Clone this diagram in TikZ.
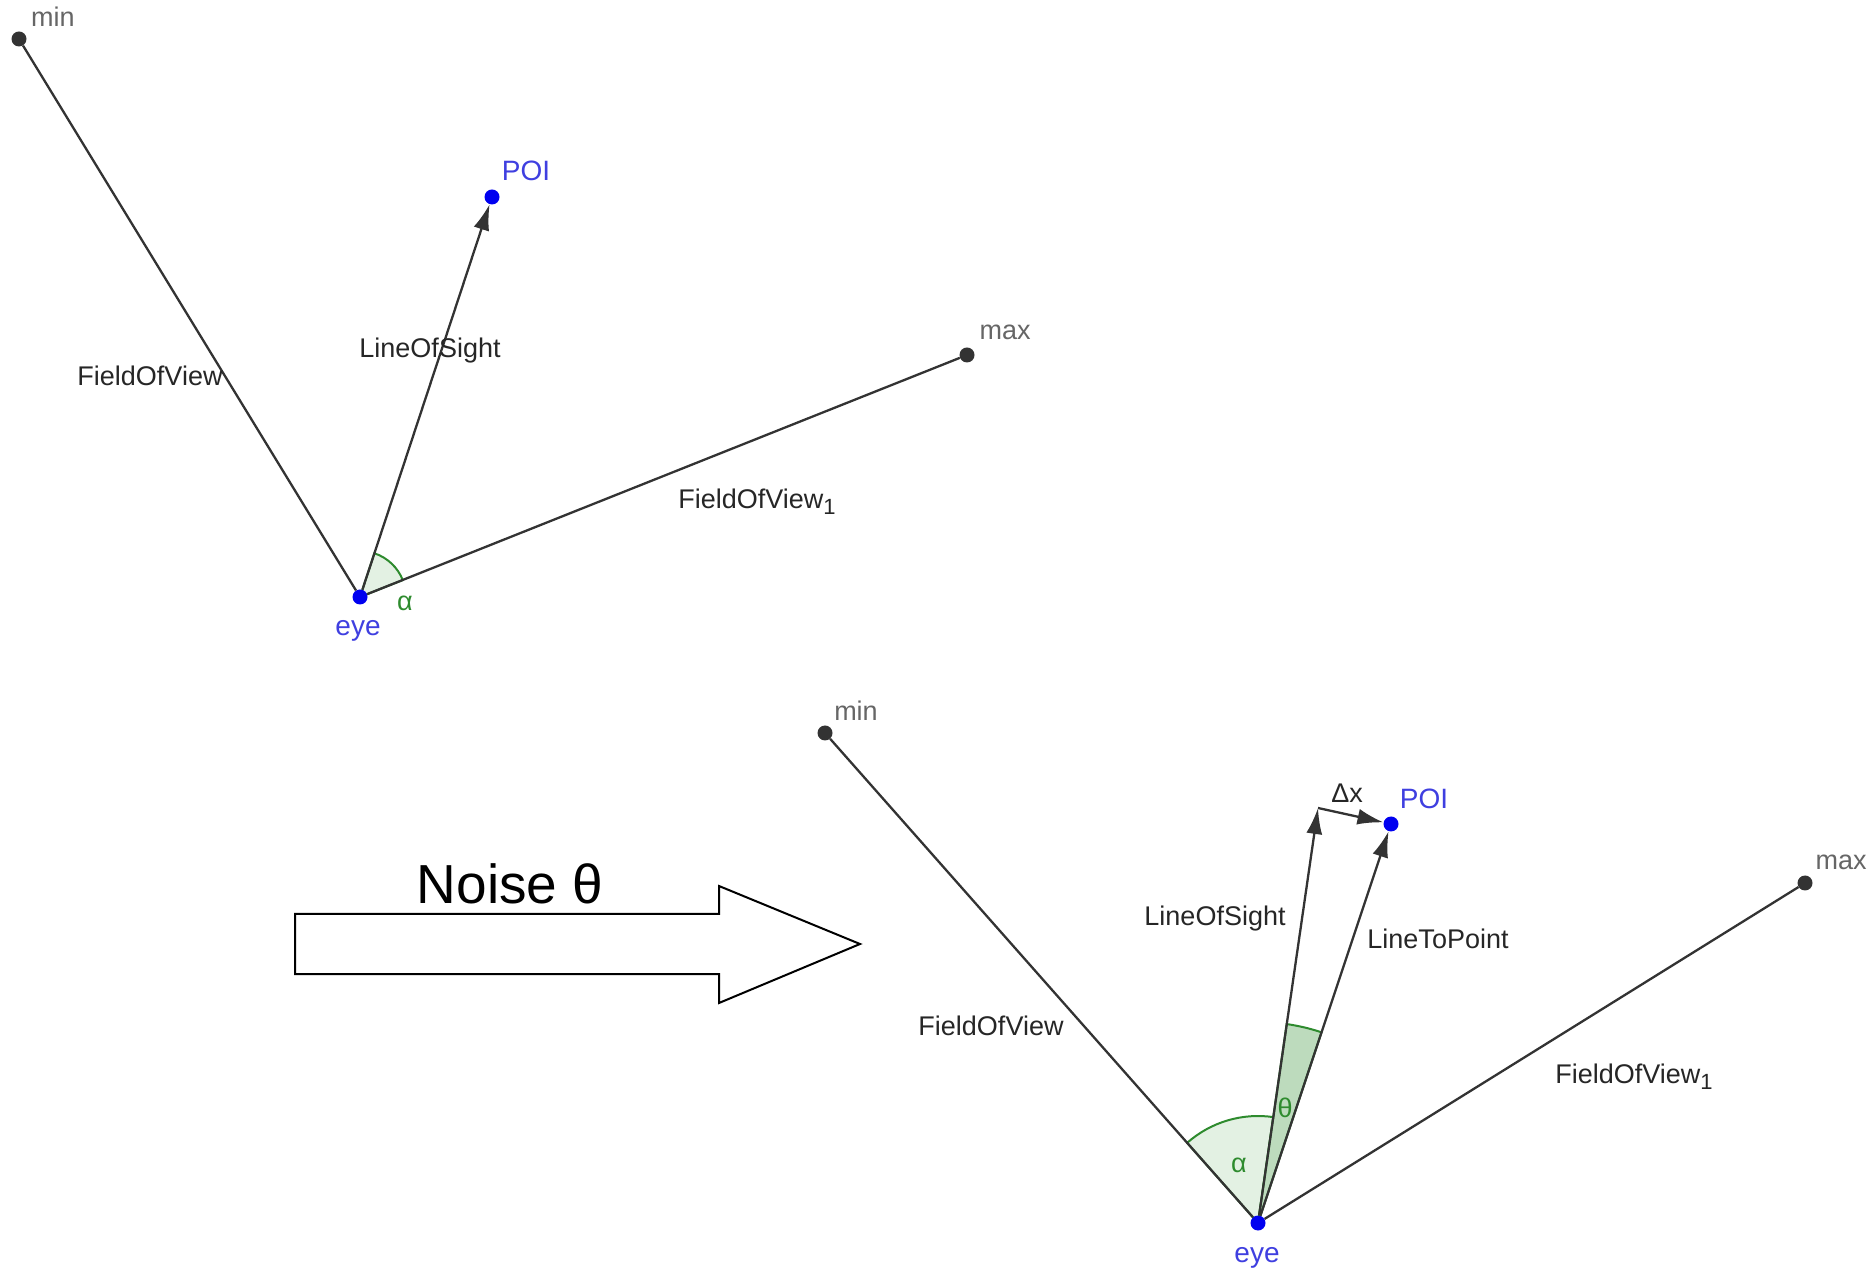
\documentclass[tikz,border=0pt]{standalone}
\usepackage{fontspec}
\setmainfont{Liberation Sans}
\usetikzlibrary{arrows.meta}

\definecolor{segcol}{HTML}{333333}
\definecolor{ptblue}{HTML}{0000F0}
\definecolor{lblblue}{HTML}{3F3FE0}
\definecolor{anggreen}{HTML}{2E8B2E}
\definecolor{lightfill}{HTML}{E3F1E3}
\definecolor{darkfill}{HTML}{BDDBBD}
\newcommand{\lowone}{\raisebox{-0.4ex}{\fontsize{22}{24}\selectfont 1}}

\begin{document}
\begin{tikzpicture}[x=1pt,y=1pt,
seg/.style={draw=segcol,line width=2.3pt},
vec/.style={seg,-{Latex[length=26pt,width=16pt]}},
ptgray/.style={circle,fill=segcol,inner sep=0pt,minimum size=15pt},
ptblue/.style={circle,fill=ptblue,inner sep=0pt,minimum size=15pt},
lbl/.style={font=\fontsize{27}{32}\selectfont,text=black!85},
lblgray/.style={font=\fontsize{27}{32}\selectfont,text=black!60},
lblblue/.style={font=\fontsize{28}{32}\selectfont,text=lblblue},
lblgreen/.style={font=\fontsize{27}{32}\selectfont,text=anggreen},
sector/.style={draw=anggreen,line width=2pt,fill=#1}]
\useasboundingbox (0,0) rectangle (1873,1267);

% first view
\coordinate (eye) at (360,670);
\filldraw[sector=lightfill] (eye) -- ++(21.5:46) arc[start angle=21.5,end angle=71.8,radius=46] -- cycle;
\node[ptgray] (min) at (19,1228) {};
\node[ptblue] (POI) at (492,1070) {};
\node[ptgray] (max) at (967,912) {};
\node[ptblue] (eyept) at (eye) {};
\draw[seg] (eyept) -- (min);
\draw[seg] (eyept) -- (max);
\draw[vec] (eyept) -- (POI);
\node[lblgray] (minlbl) at (53,1250) {min};
\node[lblblue] (POIlbl) at (526,1096) {POI};
\node[lblgray] (maxlbl) at (1005,935) {max};
\node[lblblue] (eyelbl) at (358,636) {eye};
\node[lblgreen] (alpha) at (405,664) {α};
\node[lbl] (fov) at (150,891) {FieldOfView};
\node[lbl] (los) at (430,916) {LineOfSight};
\node[lbl] (fov1) at (757,765) {FieldOfView\lowone};

% noise arrow
\draw[line width=2pt,line join=miter] (295,353) -- (719,353) -- (719,381) -- (860,323)
  -- (719,264) -- (719,293) -- (295,293) -- cycle;
\node[font=\fontsize{55}{60}\selectfont] (noise) at (510,383) {Noise θ};

% second view
\coordinate (eye2) at (1258,44);
\filldraw[sector=lightfill] (eye2) -- ++(81.8:107) arc[start angle=81.8,end angle=131.5,radius=107] -- cycle;
\filldraw[sector=darkfill] (eye2) -- ++(71.6:201) arc[start angle=71.6,end angle=81.8,radius=201] -- cycle;
\node[ptgray] (min2) at (825,534) {};
\node[ptblue] (POI2) at (1391,443) {};
\node[ptgray] (max2) at (1805,384) {};
\coordinate (sight2) at (1318,459);
\node[ptblue] (eyept2) at (eye2) {};
\draw[seg] (eyept2) -- (min2);
\draw[seg] (eyept2) -- (max2);
\draw[vec] (eyept2) -- (sight2);
\draw[vec] (eyept2) -- (POI2);
\draw[vec] (sight2) -- (POI2);
\node[lblgray] (minlbl2) at (856,556) {min};
\node[lblblue] (POIlbl2) at (1424,468) {POI};
\node[lblgray] (maxlbl2) at (1841,405) {max};
\node[lblblue] (eyelbl2) at (1257,9) {eye};
\node[lbl] (dx) at (1347,474) {Δx};
\node[lbl] (los2) at (1215,348) {LineOfSight};
\node[lbl] (ltp) at (1438,328) {LineToPoint};
\node[lbl] (fov2) at (991,241) {FieldOfView};
\node[lbl] (fov12) at (1634,190) {FieldOfView\lowone};
\node[lblgreen] (alpha2) at (1239,102) {α};
\node[lblgreen] (theta) at (1285,159) {θ};
\end{tikzpicture}
\end{document}
